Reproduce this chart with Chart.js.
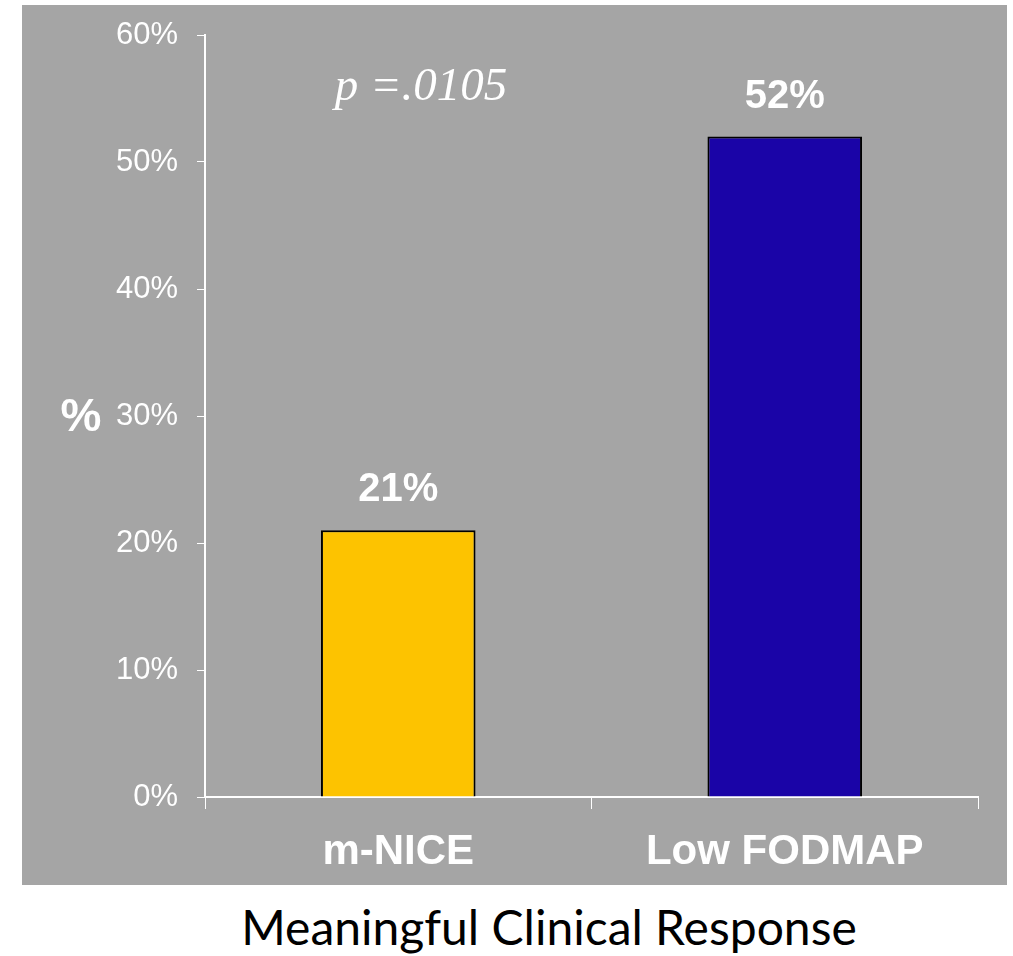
<!DOCTYPE html>
<html>
<head>
<meta charset="utf-8">
<script src="https://cdn.jsdelivr.net/npm/chart.js@4"></script>
<style>
  body { margin: 0; background: #fff; width: 1013px; height: 956px; position: relative; }
  #box { position: absolute; left: 22px; top: 5px; width: 985px; height: 880px; background: #a5a5a5; }
  #caption { position: absolute; left: 86px; width: 926px; top: 898px; text-align: center;
             font-family: Lato, 'Open Sans', sans-serif; font-size: 48px; color: #000; }
</style>
</head>
<body>
<div id="box"><canvas id="chart" width="985" height="880"></canvas></div>
<div id="caption">Meaningful Clinical Response</div>
<script>
// Data
const categories = ['m-NICE', 'Low FODMAP'];
const responders = [21, 52];
const barColors = ['#fdc300', '#1a04a7'];
const pValueText = 'p =.0105';

// Value labels above bars, the "%" axis mark and the p value
const annotations = {
  id: 'annotations',
  afterDatasetsDraw(chart) {
    const ctx = chart.ctx;
    const meta = chart.getDatasetMeta(0);
    const yScale = chart.scales.y;
    ctx.save();
    ctx.fillStyle = '#fff';
    ctx.textAlign = 'center';
    ctx.textBaseline = 'middle';
    ctx.font = 'bold 40px "Liberation Sans", Arial, sans-serif';
    meta.data.forEach((bar, i) => {
      ctx.fillText(responders[i] + '%', bar.x, bar.y - 40);
    });
    ctx.font = 'bold 46px "Liberation Sans", Arial, sans-serif';
    ctx.fillText('%', 59, yScale.getPixelForValue(30) + 2);
    ctx.font = 'italic 47px "Liberation Serif", "Times New Roman", serif';
    ctx.textBaseline = 'alphabetic';
    ctx.fillText(pValueText, 399, 95);
    ctx.restore();
  }
};

new Chart(document.getElementById('chart').getContext('2d'), {
  type: 'bar',
  data: {
    labels: categories,
    datasets: [{
      data: responders,
      backgroundColor: barColors,
      borderColor: '#000',
      borderWidth: 2,
      borderSkipped: 'bottom',
      barPercentage: 0.4,
      categoryPercentage: 1
    }]
  },
  options: {
    responsive: false,
    animation: false,
    layout: { padding: { left: 0, top: 30, right: 29, bottom: 0 } },
    plugins: { legend: { display: false }, tooltip: { enabled: false } },
    scales: {
      y: {
        min: 0,
        max: 60,
        afterFit(s) { s.width = 183; s.paddingTop = 0; s.paddingBottom = 0; },
        border: { color: '#fff', width: 2 },
        grid: { drawOnChartArea: false, color: '#fff', tickLength: 8 },
        ticks: {
          stepSize: 10,
          color: '#fff',
          padding: 19,
          font: { family: '"Liberation Sans", Arial, sans-serif', size: 31 },
          callback: v => v + '%'
        }
      },
      x: {
        afterFit(s) { s.height = 88; },
        border: { color: '#fff', width: 2 },
        grid: { drawOnChartArea: false, color: '#fff', tickLength: 12, offset: true },
        ticks: {
          color: '#fff',
          padding: 18,
          font: { family: '"Liberation Sans", Arial, sans-serif', size: 42, weight: 'bold' }
        }
      }
    }
  },
  plugins: [annotations]
});
</script>
</body>
</html>
